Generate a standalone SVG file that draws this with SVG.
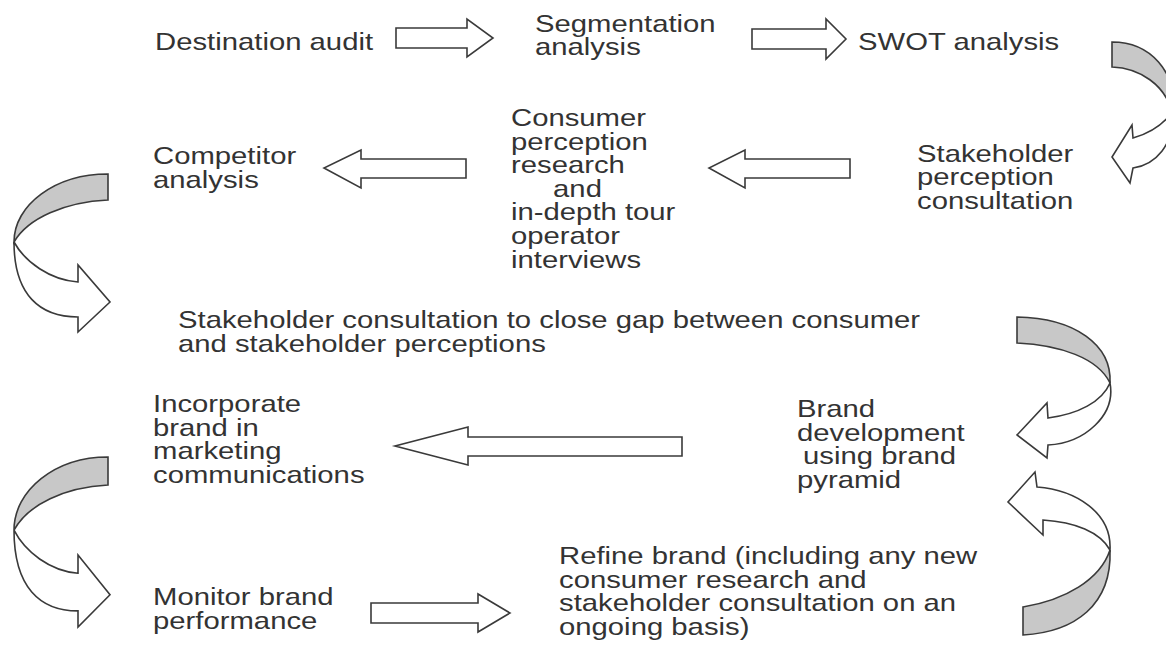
<svg xmlns="http://www.w3.org/2000/svg" xmlns:xlink="http://www.w3.org/1999/xlink" width="1166" height="651" viewBox="0 0 1166 651">
<style>
  .t { font-family: "Liberation Sans", Arial, sans-serif; font-size: 24px; fill: #333333; }
  .arr { fill: #ffffff; stroke: #3a3a3a; stroke-width: 1.6; stroke-linejoin: miter; vector-effect: non-scaling-stroke; }
  .back { fill: #c8c8c8; stroke: #3a3a3a; stroke-width: 1.6; stroke-linejoin: miter; vector-effect: non-scaling-stroke; }
</style>
<defs>
  <g id="curveL">
    <path class="back" d="M108,174 C55,174 14,205 14,242 C28,218 65,202 108,200 Z"/>
    <path class="arr" d="M14,242 C14,295 40,317 78,317 L78,332 L110,302 L78,265 L78,282 C50,280 25,262 14,242 Z"/>
  </g>
</defs>
<rect width="1166" height="651" fill="#ffffff"/>
<g id="connectors">
  <polygon class="arr" points="396,28 467,28 467,19 493,38 467,57 467,48 396,48"/>
  <polygon class="arr" points="752,29 826,29 826,19 846,39 826,59 826,49 752,49"/>
  <polygon class="arr" points="466,159 361,159 361,150 324,168 361,188 361,178 466,178"/>
  <polygon class="arr" points="850,159 745,159 745,150 709,168 745,188 745,178 850,178"/>
  <polygon class="arr" points="682,437 468,437 468,427 395,446 468,465 468,456 682,456"/>
  <polygon class="arr" points="371,603 478,603 478,594 510,613 478,632 478,623 371,623"/>
  <g id="curve-top-right">
    <path class="back" d="M1112,42 L1112,67 C1140,68 1165,85 1172,112 C1178,72 1150,42 1112,42 Z"/>
    <path class="arr" d="M1172,112 C1175,145 1155,165 1133,168 L1130,183 L1112,157 L1132,125 L1133,138 C1150,133 1163,125 1172,112 Z"/>
  </g>
  <use id="curve-mid-left" xlink:href="#curveL" href="#curveL"/>
  <g id="curve-mid-right">
    <path class="back" d="M1017,317 L1017,343 C1060,345 1098,358 1110,383 C1112,345 1075,318 1017,317 Z"/>
    <path class="arr" d="M1110,383 C1116,415 1085,443 1048,445 L1047,458 L1017,435 L1047,403 L1048,418 C1078,414 1102,402 1110,383 Z"/>
  </g>
  <g id="curve-bottom-right">
    <path class="back" d="M1023,607 L1023,635 C1075,632 1112,605 1110,550 C1100,580 1065,600 1023,607 Z"/>
    <path class="arr" d="M1110,550 C1112,512 1075,490 1037,487 L1035,472 L1008,502 L1043,535 L1043,520 C1075,522 1100,532 1110,550 Z"/>
  </g>
  <use id="curve-bottom-left" xlink:href="#curveL" href="#curveL" transform="matrix(1,0,0,1.076,0,269.8)"/>
</g>
<g id="n-destination-audit">
  <text class="t" transform="translate(155 50) scale(1.22 1)">Destination audit</text>
</g>
<g id="n-segmentation">
  <text class="t" transform="translate(535 32) scale(1.22 1)"><tspan x="0" y="0">Segmentation</tspan><tspan x="0" y="23">analysis</tspan></text>
</g>
<g id="n-swot">
  <text class="t" transform="translate(858 50) scale(1.22 1)">SWOT analysis</text>
</g>
<g id="n-stakeholder-perception">
  <text class="t" transform="translate(917 162) scale(1.22 1)"><tspan x="0" y="0">Stakeholder</tspan><tspan x="0" y="23.5">perception</tspan><tspan x="0" y="47">consultation</tspan></text>
</g>
<g id="n-consumer-perception">
  <text class="t" transform="translate(511 126) scale(1.22 1)"><tspan x="0" y="0">Consumer</tspan><tspan x="0" y="23.6">perception</tspan><tspan x="0" y="47.2">research</tspan><tspan x="34.5" y="70.8">and</tspan><tspan x="0" y="94.4">in-depth tour</tspan><tspan x="0" y="118">operator</tspan><tspan x="0" y="141.6">interviews</tspan></text>
</g>
<g id="n-competitor">
  <text class="t" transform="translate(153 164) scale(1.22 1)"><tspan x="0" y="0">Competitor</tspan><tspan x="0" y="23.6">analysis</tspan></text>
</g>
<g id="n-stakeholder-consultation">
  <text class="t" transform="translate(178 328) scale(1.22 1)"><tspan x="0" y="0">Stakeholder consultation to close gap between consumer</tspan><tspan x="0" y="24">and stakeholder perceptions</tspan></text>
</g>
<g id="n-brand-development">
  <text class="t" transform="translate(797 417) scale(1.22 1)"><tspan x="0" y="0">Brand</tspan><tspan x="0" y="23.6">development</tspan><tspan x="5" y="47.2">using brand</tspan><tspan x="0" y="70.8">pyramid</tspan></text>
</g>
<g id="n-incorporate">
  <text class="t" transform="translate(153 412) scale(1.22 1)"><tspan x="0" y="0">Incorporate</tspan><tspan x="0" y="23.6">brand in</tspan><tspan x="0" y="47.2">marketing</tspan><tspan x="0" y="70.8">communications</tspan></text>
</g>
<g id="n-monitor">
  <text class="t" transform="translate(153 605) scale(1.22 1)"><tspan x="0" y="0">Monitor brand</tspan><tspan x="0" y="23.6">performance</tspan></text>
</g>
<g id="n-refine">
  <text class="t" transform="translate(559 564) scale(1.22 1)"><tspan x="0" y="0">Refine brand (including any new</tspan><tspan x="0" y="23.6">consumer research and</tspan><tspan x="0" y="47.2">stakeholder consultation on an</tspan><tspan x="0" y="70.8">ongoing basis)</tspan></text>
</g>
</svg>
